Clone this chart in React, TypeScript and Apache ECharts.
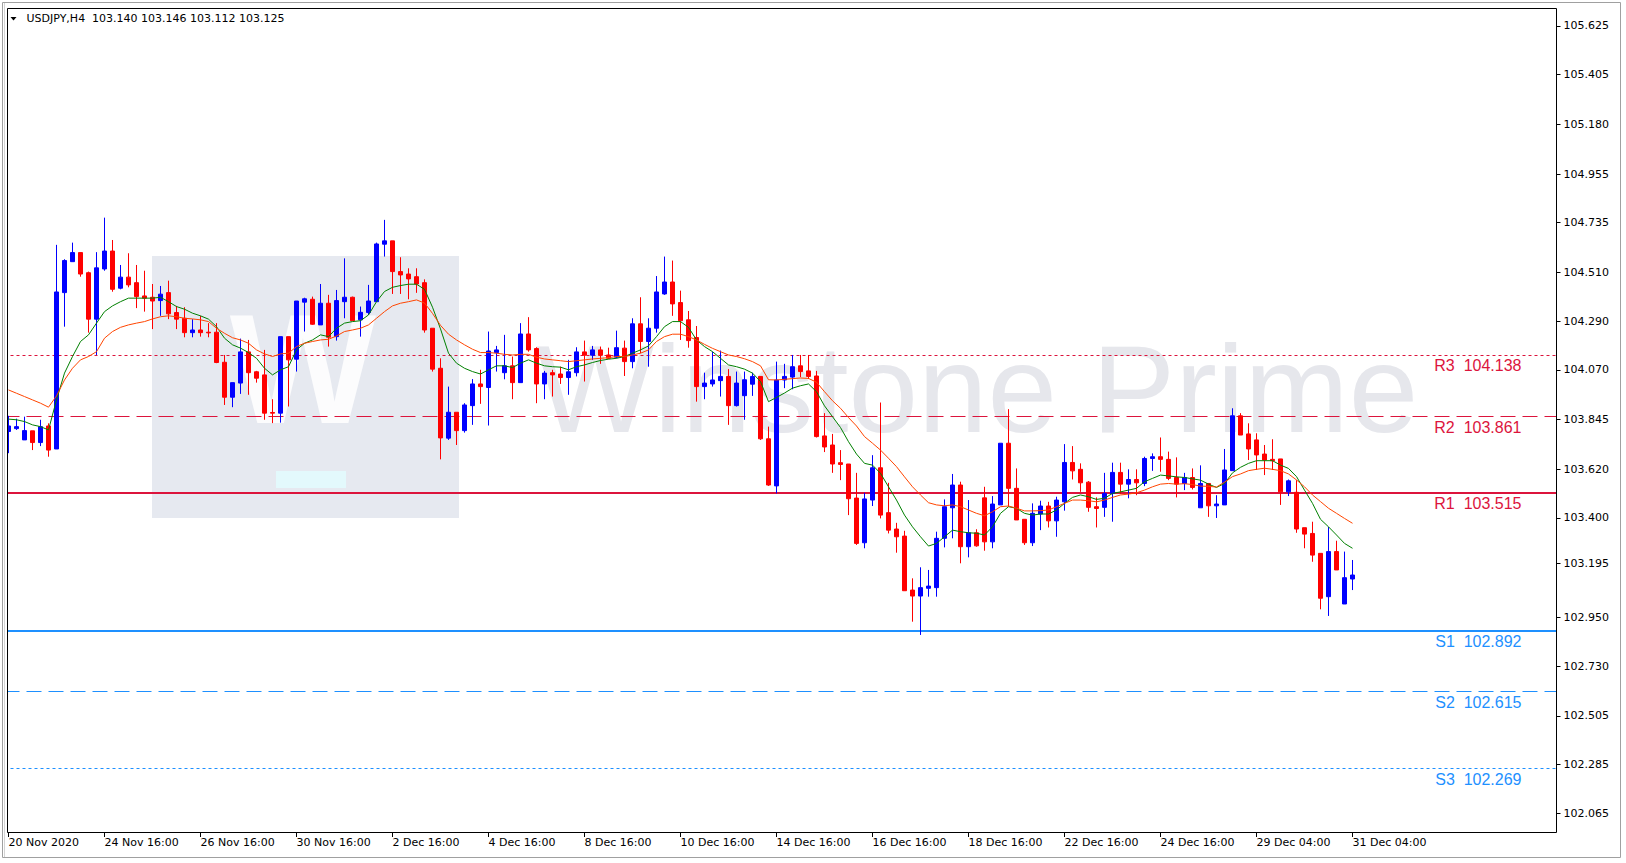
import React, { useEffect, useRef } from "react";
import * as echarts from "echarts";

const symbolTitle = "USDJPY,H4";
const titleOHLC = ["103.140", "103.146", "103.112", "103.125"];
const watermarkText = "Winstone Prime";

const xTickLabels = [
  "20 Nov 2020", "24 Nov 16:00", "26 Nov 16:00", "30 Nov 16:00", "2 Dec 16:00",
  "4 Dec 16:00", "8 Dec 16:00", "10 Dec 16:00", "14 Dec 16:00", "16 Dec 16:00",
  "18 Dec 16:00", "22 Dec 16:00", "24 Dec 16:00", "29 Dec 04:00", "31 Dec 04:00",
];
const barsPerTick = 12;
const totalSlots = 194;

const yTickValues = [
  105.625, 105.405, 105.18, 104.955, 104.735, 104.51, 104.29, 104.07, 103.845,
  103.62, 103.4, 103.195, 102.95, 102.73, 102.505, 102.285, 102.065,
];

const levelNames = ["R3", "R2", "R1", "S1", "S2", "S3"];
const levelValues = [104.138, 103.861, 103.515, 102.892, 102.615, 102.269];

// [open, high, low, close]
const candles: number[][] = [
  [103.791, 103.862, 103.693, 103.816], [103.804, 103.849, 103.798, 103.813],
  [103.753, 103.858, 103.753, 103.795], [103.794, 103.794, 103.707, 103.741],
  [103.741, 103.844, 103.725, 103.813], [103.816, 103.828, 103.677, 103.707],
  [103.712, 104.635, 103.712, 104.422], [104.419, 104.570, 104.265, 104.564],
  [104.559, 104.645, 104.559, 104.600], [104.600, 104.600, 104.491, 104.503],
  [104.509, 104.514, 104.238, 104.299], [104.299, 104.602, 104.137, 104.531],
  [104.526, 104.758, 104.518, 104.607], [104.607, 104.657, 104.423, 104.434],
  [104.439, 104.544, 104.434, 104.489], [104.489, 104.597, 104.443, 104.454],
  [104.464, 104.544, 104.349, 104.401], [104.404, 104.518, 104.333, 104.394],
  [104.398, 104.458, 104.254, 104.381], [104.383, 104.449, 104.314, 104.412],
  [104.419, 104.473, 104.299, 104.323], [104.329, 104.359, 104.254, 104.299],
  [104.303, 104.353, 104.217, 104.238], [104.238, 104.299, 104.217, 104.250],
  [104.250, 104.314, 104.220, 104.238], [104.240, 104.281, 104.217, 104.237],
  [104.240, 104.281, 104.100, 104.103], [104.104, 104.137, 103.911, 103.946],
  [103.946, 104.012, 103.901, 104.012], [104.010, 104.211, 103.961, 104.151],
  [104.151, 104.205, 103.957, 104.057], [104.061, 104.065, 104.012, 104.032],
  [104.047, 104.160, 103.844, 103.874], [103.877, 103.937, 103.829, 103.874],
  [103.874, 104.220, 103.831, 104.220], [104.220, 104.220, 103.904, 104.115],
  [104.118, 104.381, 104.062, 104.381], [104.376, 104.396, 104.243, 104.391],
  [104.389, 104.401, 104.273, 104.276], [104.273, 104.458, 104.273, 104.371],
  [104.371, 104.409, 104.175, 104.217], [104.220, 104.431, 104.202, 104.383],
  [104.378, 104.574, 104.303, 104.398], [104.398, 104.401, 104.292, 104.292],
  [104.296, 104.356, 104.220, 104.330], [104.329, 104.454, 104.318, 104.381],
  [104.378, 104.645, 104.378, 104.639], [104.638, 104.748, 104.582, 104.653],
  [104.653, 104.653, 104.413, 104.514], [104.514, 104.579, 104.413, 104.499],
  [104.503, 104.529, 104.389, 104.481], [104.491, 104.529, 104.418, 104.458],
  [104.464, 104.479, 104.238, 104.250], [104.258, 104.258, 104.062, 104.073],
  [104.077, 104.122, 103.665, 103.762], [103.761, 103.994, 103.753, 103.878],
  [103.878, 103.878, 103.730, 103.795], [103.795, 103.919, 103.786, 103.911],
  [103.908, 104.028, 103.821, 104.006], [104.006, 104.070, 103.916, 103.994],
  [103.990, 104.243, 103.818, 104.155], [104.148, 104.178, 104.062, 104.160],
  [104.057, 104.228, 104.027, 104.088], [104.088, 104.130, 103.937, 104.012],
  [104.012, 104.281, 104.012, 104.232], [104.232, 104.308, 104.152, 104.160],
  [104.166, 104.172, 103.919, 104.006], [104.006, 104.065, 103.937, 104.055],
  [104.057, 104.070, 103.949, 104.047], [104.051, 104.084, 104.006, 104.035],
  [104.035, 104.115, 103.957, 104.061], [104.057, 104.172, 104.040, 104.151],
  [104.151, 104.202, 104.017, 104.136], [104.136, 104.178, 104.115, 104.160],
  [104.160, 104.175, 104.097, 104.136], [104.137, 104.170, 104.118, 104.122],
  [104.127, 104.247, 104.122, 104.170], [104.168, 104.202, 104.042, 104.107],
  [104.107, 104.303, 104.077, 104.278], [104.278, 104.398, 104.145, 104.198],
  [104.198, 104.303, 104.084, 104.258], [104.258, 104.494, 104.238, 104.422],
  [104.413, 104.582, 104.409, 104.467], [104.467, 104.564, 104.314, 104.368],
  [104.374, 104.428, 104.205, 104.292], [104.296, 104.336, 104.170, 104.202],
  [104.216, 104.268, 103.926, 103.994], [103.994, 104.057, 103.937, 104.010],
  [104.006, 104.152, 103.994, 104.024], [104.021, 104.157, 103.949, 104.040],
  [104.040, 104.073, 103.821, 103.908], [103.908, 104.062, 103.904, 104.010],
  [103.953, 104.062, 103.844, 104.025], [104.005, 104.057, 103.952, 104.040],
  [104.040, 104.040, 103.753, 103.758], [103.758, 103.813, 103.545, 103.549],
  [103.545, 104.107, 103.511, 104.024], [104.024, 104.097, 103.987, 104.040],
  [104.037, 104.137, 103.982, 104.084], [104.088, 104.137, 104.037, 104.062],
  [104.065, 104.137, 104.028, 104.040], [104.042, 104.065, 103.764, 103.768],
  [103.771, 103.874, 103.698, 103.721], [103.730, 103.780, 103.604, 103.644],
  [103.650, 103.707, 103.571, 103.642], [103.644, 103.644, 103.413, 103.487],
  [103.490, 103.604, 103.278, 103.285], [103.288, 103.514, 103.263, 103.486],
  [103.481, 103.684, 103.454, 103.627], [103.627, 103.922, 103.398, 103.413],
  [103.424, 103.559, 103.330, 103.345], [103.350, 103.378, 103.243, 103.315],
  [103.318, 103.342, 103.071, 103.071], [103.074, 103.127, 102.931, 103.047],
  [103.047, 103.177, 102.871, 103.085], [103.082, 103.165, 103.044, 103.092],
  [103.085, 103.338, 103.044, 103.308], [103.308, 103.484, 103.267, 103.451],
  [103.446, 103.599, 103.308, 103.549], [103.549, 103.564, 103.195, 103.270],
  [103.270, 103.481, 103.222, 103.333], [103.333, 103.349, 103.270, 103.274],
  [103.491, 103.541, 103.252, 103.292], [103.292, 103.499, 103.263, 103.463],
  [103.459, 103.738, 103.459, 103.738], [103.738, 103.892, 103.451, 103.534],
  [103.534, 103.624, 103.391, 103.391], [103.394, 103.394, 103.278, 103.288],
  [103.288, 103.466, 103.273, 103.421], [103.418, 103.478, 103.345, 103.454],
  [103.454, 103.473, 103.357, 103.387], [103.387, 103.496, 103.315, 103.481],
  [103.473, 103.734, 103.433, 103.651], [103.651, 103.725, 103.574, 103.613],
  [103.620, 103.647, 103.518, 103.559], [103.562, 103.567, 103.428, 103.448],
  [103.451, 103.493, 103.357, 103.443], [103.448, 103.604, 103.405, 103.511],
  [103.511, 103.650, 103.383, 103.606], [103.606, 103.650, 103.508, 103.553],
  [103.553, 103.620, 103.489, 103.574], [103.574, 103.620, 103.503, 103.559],
  [103.556, 103.677, 103.544, 103.669], [103.669, 103.692, 103.613, 103.677],
  [103.677, 103.764, 103.609, 103.665], [103.665, 103.700, 103.571, 103.579],
  [103.583, 103.674, 103.493, 103.553], [103.556, 103.604, 103.526, 103.583],
  [103.583, 103.624, 103.529, 103.538], [103.446, 103.638, 103.446, 103.556],
  [103.556, 103.556, 103.405, 103.455], [103.455, 103.503, 103.400, 103.463],
  [103.459, 103.712, 103.459, 103.617], [103.614, 103.896, 103.614, 103.862],
  [103.862, 103.874, 103.775, 103.775], [103.780, 103.828, 103.662, 103.712],
  [103.753, 103.783, 103.617, 103.685], [103.689, 103.730, 103.594, 103.662],
  [103.665, 103.756, 103.617, 103.659], [103.667, 103.667, 103.459, 103.518],
  [103.518, 103.574, 103.499, 103.568], [103.516, 103.571, 103.333, 103.350],
  [103.356, 103.356, 103.263, 103.327], [103.330, 103.383, 103.202, 103.232],
  [103.240, 103.240, 102.987, 103.037], [103.044, 103.360, 102.957, 103.248],
  [103.248, 103.297, 103.165, 103.165], [103.011, 103.248, 103.011, 103.130],
  [103.124, 103.210, 103.074, 103.142],
];

const maFast = [
  103.847, 103.844, 103.836, 103.821, 103.813, 103.798, 103.934, 104.055, 104.130, 104.198,
  104.228, 104.281, 104.333, 104.359, 104.378, 104.394, 104.394, 104.394, 104.394, 104.398,
  104.378, 104.356, 104.344, 104.326, 104.314, 104.299, 104.265, 104.213, 104.183, 104.168,
  104.148, 104.122, 104.077, 104.047, 104.070, 104.084, 104.160, 104.190, 104.205, 104.228,
  104.220, 104.258, 104.281, 104.288, 104.292, 104.318, 104.378, 104.424, 104.443, 104.451,
  104.457, 104.457, 104.434, 104.353, 104.255, 104.145, 104.100, 104.077, 104.062, 104.051,
  104.070, 104.088, 104.088, 104.080, 104.100, 104.115, 104.100, 104.088, 104.084, 104.082,
  104.070, 104.084, 104.092, 104.103, 104.112, 104.118, 104.122, 104.130, 104.145, 104.160,
  104.178, 104.220, 104.265, 104.288, 104.288, 104.262, 104.205, 104.175, 104.152, 104.122,
  104.092, 104.084, 104.073, 104.055, 104.017, 103.926, 103.945, 103.965, 103.987, 103.998,
  104.006, 103.971, 103.907, 103.858, 103.809, 103.745, 103.689, 103.647, 103.639, 103.602,
  103.541, 103.481, 103.413, 103.360, 103.315, 103.273, 103.285, 103.315, 103.345, 103.338,
  103.333, 103.331, 103.323, 103.360, 103.421, 103.451, 103.444, 103.421, 103.413, 103.418,
  103.418, 103.436, 103.466, 103.493, 103.504, 103.496, 103.484, 103.489, 103.511, 103.518,
  103.526, 103.534, 103.564, 103.579, 103.594, 103.590, 103.586, 103.583, 103.577, 103.571,
  103.553, 103.538, 103.556, 103.604, 103.629, 103.647, 103.659, 103.659, 103.659, 103.639,
  103.624, 103.587, 103.526, 103.466, 103.394, 103.360, 103.323, 103.285, 103.263,
];

const maSlow = [
  103.979, 103.964, 103.949, 103.934, 103.919, 103.901, 103.952, 104.024, 104.077, 104.115,
  104.130, 104.152, 104.213, 104.243, 104.262, 104.273, 104.281, 104.288, 104.300, 104.310,
  104.314, 104.310, 104.303, 104.300, 104.296, 104.288, 104.258, 104.235, 104.215, 104.205,
  104.190, 104.160, 104.142, 104.130, 104.142, 104.145, 104.175, 104.190, 104.198, 104.205,
  104.208, 104.223, 104.243, 104.250, 104.258, 104.273, 104.303, 104.333, 104.359, 104.371,
  104.378, 104.386, 104.372, 104.325, 104.271, 104.231, 104.205, 104.183, 104.163, 104.148,
  104.148, 104.145, 104.140, 104.137, 104.140, 104.140, 104.127, 104.119, 104.115, 104.111,
  104.107, 104.111, 104.115, 104.119, 104.122, 104.125, 104.130, 104.130, 104.137, 104.145,
  104.160, 104.198, 104.220, 104.231, 104.231, 104.220, 104.205, 104.185, 104.167, 104.152,
  104.137, 104.130, 104.120, 104.107, 104.088, 104.025, 104.024, 104.027, 104.030, 104.033,
  104.031, 104.014, 103.971, 103.930, 103.896, 103.854, 103.816, 103.768, 103.738, 103.707,
  103.670, 103.632, 103.586, 103.541, 103.504, 103.469, 103.459, 103.455, 103.459, 103.451,
  103.436, 103.421, 103.410, 103.428, 103.451, 103.454, 103.444, 103.432, 103.432, 103.433,
  103.436, 103.451, 103.466, 103.481, 103.481, 103.478, 103.473, 103.481, 103.493, 103.504,
  103.508, 103.514, 103.526, 103.541, 103.553, 103.556, 103.553, 103.555, 103.551, 103.544,
  103.543, 103.540, 103.562, 103.587, 103.599, 103.614, 103.620, 103.625, 103.620, 103.614,
  103.599, 103.572, 103.541, 103.504, 103.474, 103.444, 103.421, 103.398, 103.376,
];

const AXIS_FONT = '"DejaVu Sans", Tahoma, sans-serif';
const LEVEL_FONT = '"Liberation Sans", Arial, sans-serif';
const BULL = "#0000FF";
const BEAR = "#FF0000";
const RES = "#DC143C";
const SUP = "#1E90FF";

const categories = Array.from({ length: totalSlots }, (_, i) => String(i));
const showTick = (index: number) => index % barsPerTick === 0 && index / barsPerTick < xTickLabels.length;

function levelStyle(k: number) {
  const color = k < 3 ? RES : SUP;
  const kind = ["dotted", "dashed", "solid", "solid", "dashed", "dotted"][k];
  const type = kind === "dotted" ? [3, 3] : kind === "dashed" ? [15, 7] : "solid";
  return { color, width: kind === "solid" ? 2 : 1, type };
}

export default function App() {
  const ref = useRef<HTMLDivElement>(null);
  useEffect(() => {
    if (!ref.current) return;
    const chart = echarts.init(ref.current, null, { renderer: "svg" });
    const option: any = {
      animation: false,
      backgroundColor: "#ffffff",
      grid: { left: 4.5, right: 69.5, top: 8, bottom: 31, containLabel: false },
      xAxis: {
        type: "category",
        data: categories,
        boundaryGap: true,
        axisLine: { show: false },
        axisTick: {
          show: true,
          interval: showTick,
          alignWithLabel: true,
          length: 5,
          lineStyle: { color: "#000000", width: 1 },
        },
        axisLabel: {
          interval: showTick,
          formatter: (_v: string, index: number) => xTickLabels[index / barsPerTick] ?? "",
          align: "left",
          margin: 5,
          fontFamily: AXIS_FONT,
          fontSize: 11,
          color: "#000000",
        },
        splitLine: { show: false },
      },
      yAxis: {
        type: "value",
        position: "right",
        min: 101.98,
        max: 105.706,
        axisLine: { show: false },
        axisTick: {
          show: true,
          customValues: yTickValues,
          length: 4,
          lineStyle: { color: "#000000", width: 1 },
        },
        axisLabel: {
          customValues: yTickValues,
          formatter: (v: number) => v.toFixed(3),
          margin: 7,
          fontFamily: AXIS_FONT,
          fontSize: 11,
          color: "#000000",
        },
        splitLine: { show: false },
      },
      series: [
        {
          type: "candlestick",
          z: 5,
          silent: true,
          barWidth: 4,
          data: candles.map(([o, h, l, c]) => [o, c, l, h]),
          itemStyle: {
            color: BULL,
            color0: BEAR,
            borderColor: BULL,
            borderColor0: BEAR,
            borderWidth: 1,
          },
          markLine: {
            silent: true,
            symbol: ["none", "none"],
            precision: 3,
            data: levelValues.map((v, k) => ({
              yAxis: v,
              lineStyle: levelStyle(k),
              label: {
                show: true,
                position: "insideEndBottom",
                distance: [35, 3],
                formatter: `${levelNames[k]}\u00a0\u00a0${v.toFixed(3)}`,
                color: k < 3 ? RES : SUP,
                fontFamily: LEVEL_FONT,
                fontSize: 16,
              },
            })),
          },
        },
        {
          type: "line",
          z: 6,
          silent: true,
          data: maFast,
          showSymbol: false,
          symbol: "none",
          lineStyle: { color: "#008000", width: 1 },
        },
        {
          type: "line",
          z: 6,
          silent: true,
          data: maSlow,
          showSymbol: false,
          symbol: "none",
          lineStyle: { color: "#FF4500", width: 1 },
        },
      ],
      graphic: [
        // watermark
        { type: "rect", z: 1, silent: true, shape: { x: 152, y: 256, width: 307, height: 262 }, style: { fill: "#e6e9f0" } },
        { type: "text", z: 1, silent: true, x: 303, y: 369, style: { text: "W", fill: "#ffffff", font: `bold 155px ${LEVEL_FONT}`, align: "center", verticalAlign: "middle", opacity: 0.85 } },
        { type: "rect", z: 1, silent: true, shape: { x: 276, y: 471, width: 70, height: 17 }, style: { fill: "#e3f9fc" } },
        { type: "text", z: 1, silent: true, x: 536, y: 388, style: { text: watermarkText, fill: "#e6e7ec", font: `125px ${LEVEL_FONT}`, align: "left", verticalAlign: "middle" } },
        // cover left overflow
        { type: "rect", z: 100, silent: true, shape: { x: 0, y: 0, width: 7, height: 863 }, style: { fill: "#ffffff" } },
        // plot frame
        { type: "rect", z: 101, silent: true, shape: { x: 7.5, y: 8.5, width: 1549, height: 824 }, style: { fill: "none", stroke: "#000000", lineWidth: 1 } },
        // window border
        { type: "rect", z: 101, silent: true, shape: { x: 2.5, y: 2.5, width: 1618, height: 855 }, style: { fill: "none", stroke: "#a0a0a0", lineWidth: 1 } },
        { type: "line", z: 101, silent: true, shape: { x1: 4.5, y1: 3, x2: 4.5, y2: 857 }, style: { stroke: "#d4d4d4", lineWidth: 1 } },
        // title
        { type: "polygon", z: 102, silent: true, shape: { points: [[10.5, 17], [16.5, 17], [13.5, 20.5]] }, style: { fill: "#000000" } },
        { type: "text", z: 102, silent: true, x: 26.5, y: 18.5, style: { text: `${symbolTitle}\u00a0\u00a0${titleOHLC.join(" ")}`, fill: "#000000", font: `11px ${AXIS_FONT}`, align: "left", verticalAlign: "middle" } },
      ],
    };
    chart.setOption(option);
    return () => chart.dispose();
  }, []);
  return (
    <div
      ref={ref}
      style={{ position: "absolute", left: 0, top: 0, width: 1626, height: 863, background: "#ffffff" }}
    />
  );
}
